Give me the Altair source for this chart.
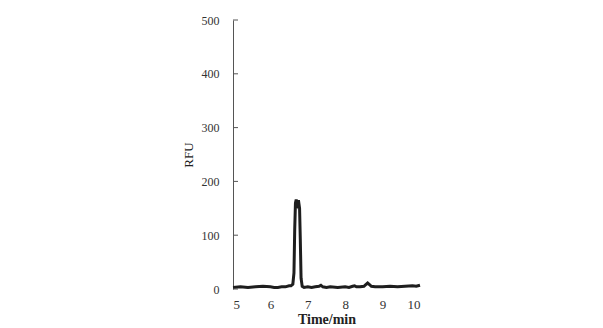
import altair as alt
import pandas as pd

# Chromatogram trace
time_min = [5.0, 5.2, 5.4, 5.6, 5.8, 6.0, 6.1, 6.2, 6.3, 6.4, 6.5, 6.55, 6.6, 6.63,
            6.65, 6.67, 6.69, 6.72, 6.75, 6.78, 6.8, 6.82, 6.85, 6.9, 7.0, 7.1,
            7.2, 7.3, 7.35, 7.4, 7.5, 7.6, 7.8, 8.0, 8.1, 8.2, 8.25, 8.3, 8.4, 8.5,
            8.55, 8.6, 8.65, 8.7, 8.8, 9.0, 9.2, 9.4, 9.6, 9.8, 9.9, 10.0]
rfu = [3, 4, 3, 4, 5, 4, 3, 3, 4, 4, 6, 6, 9, 30,
       110, 160, 166, 158, 165, 150, 90, 20, 5, 3, 4, 3,
       4, 5, 7, 4, 3, 4, 3, 4, 3, 5, 6, 4, 4, 5,
       8, 11, 8, 5, 4, 4, 5, 4, 5, 6, 5, 7]

y_ticks = [0, 100, 200, 300, 400, 500]
x_ticks = [5, 6, 7, 8, 9, 10]

df = pd.DataFrame({"t": time_min, "rfu": rfu})
ticks_df = pd.DataFrame({"v": y_ticks})

font = "Liberation Serif"

x_scale = alt.Scale(domain=[5, 10], nice=False, zero=False)
y_scale = alt.Scale(domain=[0, 500], nice=False)

line = alt.Chart(df).mark_line(color="#1e1e1e", strokeWidth=3, clip=False).encode(
    x=alt.X("t:Q", scale=x_scale,
            axis=alt.Axis(values=x_ticks, title="Time/min", domain=False, ticks=False,
                          grid=False, labelFont=font, labelFontSize=13, labelColor="#333",
                          labelPadding=9, titleFont=font, titleFontSize=14,
                          titleFontWeight="bold", titleColor="#222", titlePadding=1)),
    y=alt.Y("rfu:Q", scale=y_scale,
            axis=alt.Axis(values=y_ticks, title="RFU", domain=True, domainColor="#555",
                          ticks=False, grid=False, labelFont=font, labelFontSize=12,
                          labelColor="#333", labelPadding=14, titleFont=font,
                          titleFontSize=13, titleFontWeight="normal", titleColor="#222",
                          titlePadding=6)),
)

tick_marks = alt.Chart(ticks_df).mark_rule(color="#555", strokeWidth=1).encode(
    y=alt.Y("v:Q", scale=y_scale),
    x=alt.value(0),
    x2=alt.value(5),
)

chart = alt.layer(line, tick_marks).properties(
    width=187, height=269, background="white",
    autosize=alt.AutoSizeParams(type="none"),
    padding={"left": 225, "top": 12, "right": 20, "bottom": 40},
).configure_view(stroke=None)

chart.save("out.html", embed_options={"renderer": "svg", "actions": False})
